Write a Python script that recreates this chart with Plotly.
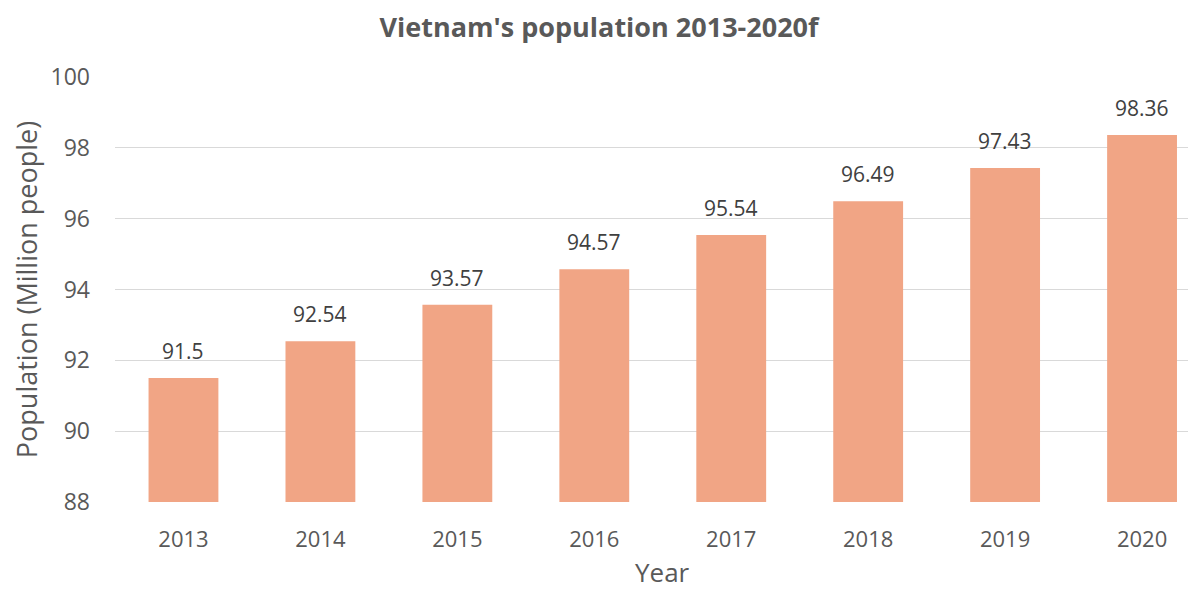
import plotly.graph_objects as go

years = ["2013", "2014", "2015", "2016", "2017", "2018", "2019", "2020"]
population = [91.5, 92.54, 93.57, 94.57, 95.54, 96.49, 97.43, 98.36]
labels = ["91.5", "92.54", "93.57", "94.57", "95.54", "96.49", "97.43", "98.36"]

FONT = "Open Sans"
GRAY = "#595959"

fig = go.Figure()
fig.add_trace(go.Bar(
    x=years, y=population,
    marker=dict(color="#F1A585", line=dict(width=0)),
    hoverinfo="skip",
))

# data labels (category axis: position by category index)
for i, (v, t) in enumerate(zip(population, labels)):
    fig.add_annotation(x=i, y=v, text=t, showarrow=False, yanchor="bottom",
                       yshift=11, font=dict(family=FONT, size=21, color="#404040"))

fig.add_annotation(x=0.5067, y=-0.205, xref="paper", yref="paper", text="Year",
                   showarrow=False, yanchor="bottom", yshift=-3,
                   font=dict(family=FONT, size=26, color=GRAY))

# page body has an 8px margin; figure sized to fill the remaining window
fig.update_layout(
    width=1188, height=582,
    margin=dict(l=106.5, r=0, t=69, b=88, pad=0),
    paper_bgcolor="white", plot_bgcolor="white",
    bargap=0.49,
    showlegend=False,
    title=dict(text="<b>Vietnam's population 2013-2020f</b>", x=0.4975, xref="container",
               y=1 - 20 / 582, yref="container", yanchor="middle",
               font=dict(family=FONT, size=27, color=GRAY)),
    xaxis=dict(type="category", range=[-0.5, 7.394], showgrid=False, showline=False,
               zeroline=False, ticks="", ticklabelstandoff=22,
               tickfont=dict(family=FONT, size=22, color=GRAY)),
    yaxis=dict(range=[88, 100], dtick=2, tick0=88, showgrid=True, gridcolor="#D9D9D9",
               gridwidth=1, zeroline=False, showline=False, ticks="",
               ticklabelstandoff=24,
               tickfont=dict(family=FONT, size=23, color=GRAY),
               title=dict(text="Population (Million people)", standoff=6,
                          font=dict(family=FONT, size=27, color=GRAY))),
)

fig.write_html("out.html")
